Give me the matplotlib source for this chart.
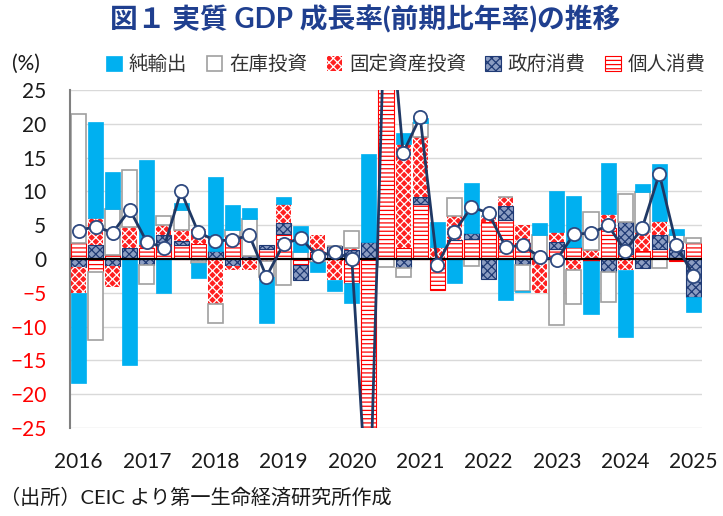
import matplotlib.pyplot as plt
import numpy as np

plt.rcParams['font.family'] = ['Lato', 'Noto Sans CJK JP', 'DejaVu Sans']
plt.rcParams['hatch.linewidth'] = 0.9

# quarters 2016Q1 .. 2025Q1
years = [str(y) for y in range(2016, 2026)]
n_q = 37

# contributions (% pt), stacking order from zero outward
personal = [2.4, -1.9, 0.6, 0.2, 1.6, 2.2, 2.1, 2.2, 0.0, 3.4, 0.0, 1.5, 3.7, -0.9, 1.0, -0.2, -3.5,
            -38.0, 40.0, 1.7, 8.1, -4.6, 2.8, 3.0, 5.5, 5.8, 2.3, 0.0, 1.5, 1.8, -0.3, 4.6, 0.8, 1.2, 1.5, -0.3, 2.4]
government = [-1.2, 2.0, -1.1, 1.5, -0.9, 1.4, 0.6, -0.25, 1.2, -1.1, 0.5, 0.5, 1.6, -2.2, 0.0, 1.9, 1.4,
              2.5, 1.0, -1.3, 1.1, 0.0, 0.0, 0.8, -2.9, 2.0, -0.9, 0.0, 1.0, 0.0, 0.0, -1.9, 4.6, -1.3, 2.1, 1.3, -5.6]
fixed_inv = [-3.9, 4.0, -3.1, 3.1, 0.6, 1.4, 1.6, 2.2, -6.6, -0.5, -1.6, -0.3, 2.8, 0.0, 2.5, -2.9, 0.2,
             -6.0, 5.0, 15.3, 8.8, 1.8, 3.5, 0.0, 0.8, 1.3, 2.7, -5.1, 1.5, -1.6, 1.3, 2.0, -1.6, 2.8, 2.0, 1.2, 0.0]
inventory = [19.1, -10.1, 6.8, 8.4, -2.8, 1.4, 3.0, -0.4, -2.8, 0.9, 5.4, -2.3, -3.9, 1.1, -0.4, 0.0, 2.5,
             -2.0, -1.2, -1.3, 2.1, 0.0, 2.7, -1.1, 0.0, 0.0, -3.9, 3.5, -9.8, -5.0, 5.7, -4.5, 4.2, 5.9, -1.4, 1.1, 0.7]
net_exports = [-13.3, 14.2, 5.4, -15.7, 12.4, -5.1, 1.0, -2.1, 11.0, 3.7, 1.6, -6.8, 1.1, 3.8, -1.5, -1.7, -3.0,
               13.0, 2.0, 1.6, 0.7, 3.7, -3.6, 7.4, 0.0, -6.1, -0.1, 1.8, 6.1, 7.5, -7.9, 7.6, -9.9, 1.2, 8.4, 0.8, -2.3]
gdp = [4.2, 4.8, 3.9, 7.3, 2.5, 1.7, 10.0, 4.0, 2.7, 2.8, 3.5, -2.6, 2.2, 3.1, 0.4, 1.1, -0.05,
       -41.0, 44.0, 15.7, 21.0, -0.9, 4.0, 7.7, 6.8, 1.8, 2.0, 0.3, -0.1, 3.7, 3.8, 5.0, 1.2, 4.6, 12.6, 2.1, -2.5]

fig = plt.figure(figsize=(7.23, 5.16), dpi=100)
ax = fig.add_axes([0.0968, 0.1705, 0.8742, 0.6551])

x = np.arange(n_q)
w = 0.88
pos = np.zeros(n_q)
neg = np.zeros(n_q)

series = [
    (personal, '個人消費', dict(facecolor='white', edgecolor='red', hatch='----', linewidth=0.8)),
    (government, '政府消費', dict(facecolor='#8C9DC2', edgecolor='#1F3A75', hatch='xxxx', linewidth=0.8)),
    (fixed_inv, '固定資産投資', dict(facecolor='#FF2020', edgecolor='white', hatch='xxxx', linewidth=0.0)),
    (inventory, '在庫投資', dict(facecolor='white', edgecolor='#A0A0A0', linewidth=1.2)),
    (net_exports, '純輸出', dict(facecolor='#00B0F0', edgecolor='#00B0F0', linewidth=0.5)),
]

handles = {}
for vals, name, style in series:
    v = np.array(vals)
    bottom = np.where(v >= 0, pos, neg)
    b = ax.bar(x, v, w, bottom=bottom, zorder=2, **style)
    handles[name] = b
    pos = pos + np.where(v > 0, v, 0)
    neg = neg + np.where(v < 0, v, 0)

ax.plot(x, gdp, color='#1F3864', lw=2, marker='o', markersize=9.5,
        markerfacecolor='white', markeredgecolor='#2F4A80', markeredgewidth=1.3, zorder=4)

ax.set_xlim(-0.5, n_q - 0.5)
ax.set_ylim(-25, 25)
ax.set_yticks(range(-25, 30, 5))
ax.yaxis.grid(True, color='#D9D9D9', lw=1)
ax.set_axisbelow(True)
ax.axhline(0, color='black', lw=1.6, zorder=3)
for s in ['top', 'right', 'bottom']:
    ax.spines[s].set_visible(False)
ax.spines['left'].set_color('#808080')
ax.spines['left'].set_linewidth(1.5)

ax.set_xticks(np.arange(0, n_q, 4))
ax.set_xticklabels(years, fontsize=15, color='#1A1A1A')
ax.tick_params(axis='both', length=0)
ax.tick_params(axis='x', pad=17)
ax.tick_params(axis='y', labelsize=15, pad=17)
for lab, val in zip(ax.get_yticklabels(), range(-25, 30, 5)):
    lab.set_color('red' if val < 0 else '#1A1A1A')

fig.text(0.505, 0.962, '図１ 実質 GDP 成長率(前期比年率)の推移', ha='center', va='center',
         fontsize=20, fontweight='bold', color='#1F3F8F')
fig.text(0.016, 0.876, '(%)', ha='left', va='center', fontsize=15, color='#1A1A1A')
fig.text(0.0, 0.037, '（出所）CEIC より第一生命経済研究所作成', ha='left', va='center',
         fontsize=14.5, color='#1A1A1A')

order = ['純輸出', '在庫投資', '固定資産投資', '政府消費', '個人消費']
fig.legend([handles[k] for k in order], order, loc='center', bbox_to_anchor=(0.5616, 0.876),
           ncol=5, frameon=False, fontsize=14, handlelength=0.8, handleheight=0.8,
           handletextpad=0.35, columnspacing=1.0, labelcolor='#333333')

fig.savefig('out.png', dpi=100)
